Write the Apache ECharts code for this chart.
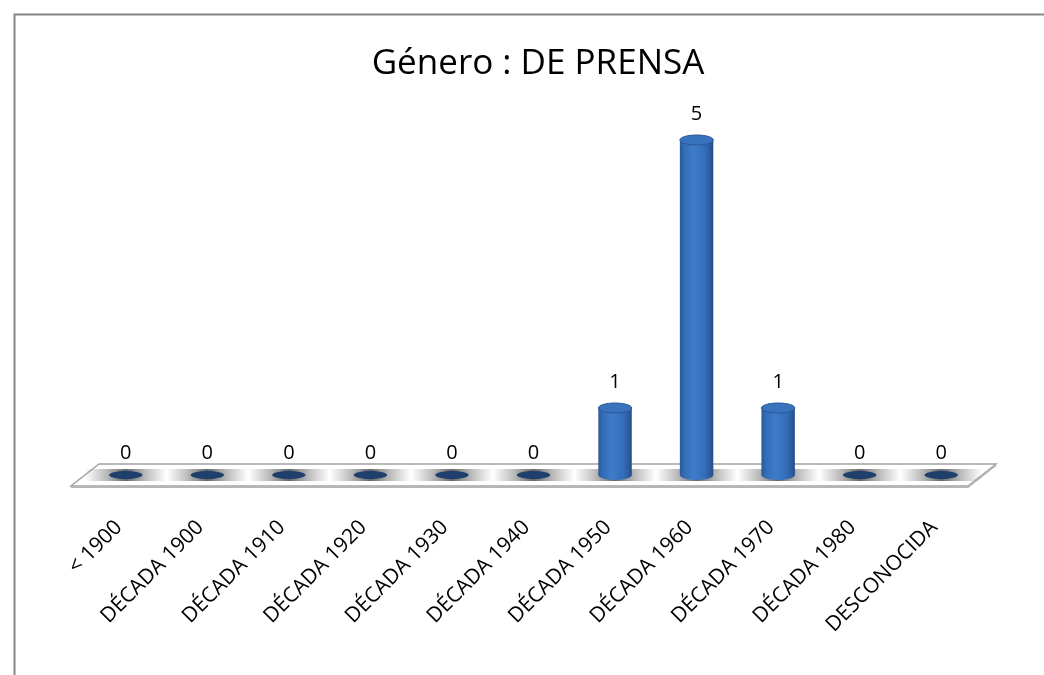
<!DOCTYPE html>
<html>
<head>
<meta charset="utf-8">
<script src="https://cdn.jsdelivr.net/npm/echarts@6/dist/echarts.min.js"></script>
<style>
  html, body { margin: 0; padding: 0; background: #fff; }
  #chart { width: 1044px; height: 675px; }
</style>
</head>
<body>
<div id="chart"></div>
<script>
const categories = ['< 1900', 'DÉCADA 1900', 'DÉCADA 1910', 'DÉCADA 1920', 'DÉCADA 1930',
  'DÉCADA 1940', 'DÉCADA 1950', 'DÉCADA 1960', 'DÉCADA 1970', 'DÉCADA 1980', 'DESCONOCIDA']
const values = [0, 0, 0, 0, 0, 0, 1, 5, 1, 0, 0]

const FONT = '"Open Sans", sans-serif'

const chart = echarts.init(document.getElementById('chart'))

const bodyGrad = new echarts.graphic.LinearGradient(0, 0, 1, 0, [
  { offset: 0, color: '#2a5896' },
  { offset: 0.12, color: '#336cb5' },
  { offset: 0.4, color: '#3e7cc8' },
  { offset: 0.75, color: '#346dba' },
  { offset: 0.92, color: '#2a5a9c' },
  { offset: 1, color: '#214d88' }
])

const shadowGrad = new echarts.graphic.LinearGradient(0, 0, 1, 0, [
  { offset: 0, color: 'rgba(140,140,140,0)' },
  { offset: 0.2, color: 'rgba(140,140,140,0.45)' },
  { offset: 0.5, color: 'rgba(100,100,100,1)' },
  { offset: 0.8, color: 'rgba(140,140,140,0.45)' },
  { offset: 1, color: 'rgba(140,140,140,0)' }
])

// piso 3D bajo las barras
function renderFloor(params, api) {
  const n = categories.length
  const first = api.coord([0, 0])
  const last = api.coord([n - 1, 0])
  const bw = api.size([1, 0])[0]
  const x0 = first[0] - bw / 2
  const x1 = last[0] + bw / 2
  const y = first[1]
  const skew = 14
  const depth = 11
  return {
    type: 'group',
    children: [
      {
        type: 'polygon',
        shape: { points: [[x0 + skew, y - depth], [x1 + skew, y - depth], [x1 - skew, y + depth], [x0 - skew, y + depth]] },
        style: { fill: '#ffffff', stroke: '#a3a3a3', lineWidth: 1.5 }
      },
      {
        type: 'polyline',
        shape: { points: [[x0 - skew, y + depth + 1], [x1 - skew, y + depth + 1], [x1 + skew, y - depth + 1]] },
        style: { stroke: '#b5b5b5', lineWidth: 2, fill: null }
      }
    ]
  }
}

function renderBar(params, api) {
  const x = api.value(0)
  const v = api.value(1)
  const base = api.coord([x, 0])
  const top = api.coord([x, v])
  const bw = api.size([1, 0])[0]
  const w = bw * 0.41
  const rx = w / 2
  const ry = 5
  const children = [
    {
      type: 'rect',
      shape: { x: base[0] - bw / 2, y: base[1] - 6, width: bw, height: 12 },
      style: { fill: shadowGrad }
    }
  ]
  if (v > 0) {
    children.push(
      {
        type: 'ellipse',
        shape: { cx: base[0], cy: base[1], rx: rx, ry: ry },
        style: { fill: bodyGrad }
      },
      {
        type: 'rect',
        shape: { x: base[0] - rx, y: top[1], width: w, height: base[1] - top[1] },
        style: { fill: bodyGrad }
      },
      {
        type: 'ellipse',
        shape: { cx: top[0], cy: top[1], rx: rx, ry: ry },
        style: { fill: '#3a73bd', stroke: '#2b5898', lineWidth: 1 }
      }
    )
  } else {
    children.push({
      type: 'ellipse',
      shape: { cx: base[0], cy: base[1], rx: rx, ry: 4 },
      style: { fill: '#1f3f6c' }
    })
  }
  children.push({
    type: 'text',
    style: {
      text: String(v),
      x: top[0],
      y: top[1] - (v > 0 ? 26 : 22),
      align: 'center',
      verticalAlign: 'middle',
      fontSize: 20,
      fontFamily: FONT,
      fill: '#000'
    }
  })
  return { type: 'group', children: children }
}

chart.setOption({
  backgroundColor: '#ffffff',
  animation: false,
  graphic: [
    {
      type: 'rect',
      left: 12,
      top: 12,
      shape: { width: 1200, height: 800 },
      style: { fill: null, stroke: '#868686', lineWidth: 2 },
      silent: true
    }
  ],
  title: {
    text: 'Género : DE PRENSA',
    left: 533,
    top: 42,
    textAlign: 'center',
    textStyle: { fontFamily: FONT, fontSize: 35, fontWeight: 'normal', color: '#000' }
  },
  grid: {
    left: 85,
    right: 62,
    top: 73,
    bottom: 200
  },
  xAxis: {
    type: 'category',
    data: categories,
    axisLine: { show: false },
    axisTick: { show: false },
    splitLine: { show: false },
    axisLabel: {
      interval: 0,
      rotate: 45,
      margin: 42,
      padding: [0, 10, 0, 0],
      fontFamily: FONT,
      fontSize: 21,
      color: '#000'
    }
  },
  yAxis: {
    type: 'value',
    min: 0,
    max: 6,
    show: false
  },
  series: [
    {
      type: 'custom',
      data: [[0, 0]],
      renderItem: renderFloor,
      silent: true,
      z: 1
    },
    {
      type: 'custom',
      data: values.map((v, i) => [i, v]),
      renderItem: renderBar,
      z: 2
    }
  ]
})
</script>
</body>
</html>
